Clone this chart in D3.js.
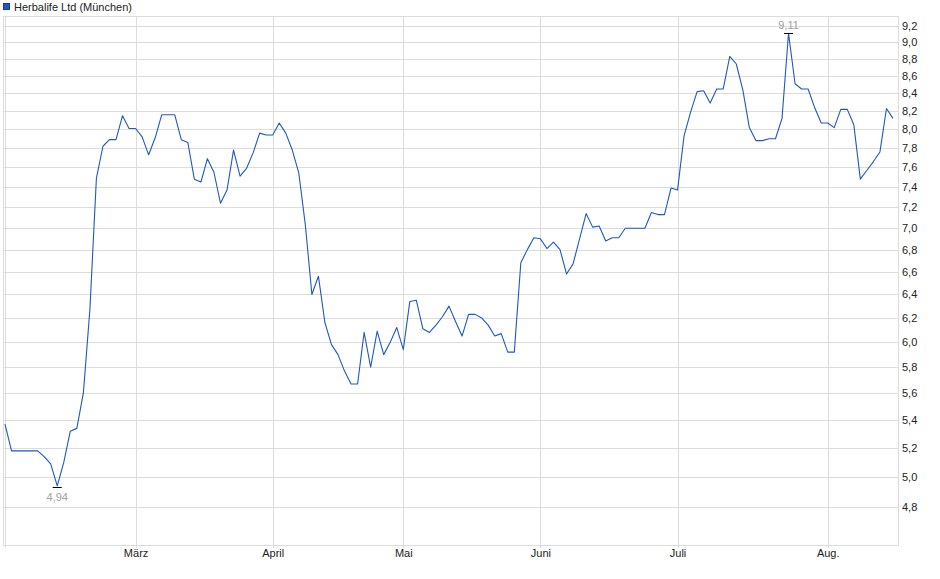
<!DOCTYPE html>
<html>
<head>
<meta charset="utf-8">
<script src="https://cdn.jsdelivr.net/npm/d3@7"></script>
<style>
  body { margin: 0; background: #fff; }
  text { font-family: Arial, "Liberation Sans", sans-serif; }
</style>
</head>
<body>
<div id="chart"></div>
<script>
// Herbalife Ltd (München), daily closes, Feb - Aug.
var seriesName = 'Herbalife Ltd (München)';
var prices = [
  5.37, 5.18, 5.18, 5.18, 5.18, 5.18, 5.14, 5.09, 4.94, 5.10,
  5.32, 5.34, 5.60, 6.27, 7.49, 7.82, 7.89, 7.89, 8.15, 8.01,
  8.01, 7.92, 7.73, 7.91, 8.16, 8.16, 8.16, 7.89, 7.86, 7.48,
  7.45, 7.69, 7.55, 7.24, 7.37, 7.78, 7.51, 7.59, 7.75, 7.96,
  7.94, 7.94, 8.07, 7.96, 7.78, 7.54, 7.03, 6.40, 6.56, 6.16,
  5.98, 5.90, 5.77, 5.67, 5.67, 6.08, 5.80, 6.09, 5.90, 6.00,
  6.12, 5.94, 6.34, 6.35, 6.11, 6.08, 6.14, 6.21, 6.30, 6.17,
  6.05, 6.23, 6.23, 6.20, 6.14, 6.05, 6.07, 5.92, 5.92, 6.68,
  6.80, 6.91, 6.90, 6.81, 6.87, 6.80, 6.58, 6.67, 6.90, 7.14,
  7.01, 7.02, 6.88, 6.91, 6.91, 7.00, 7.00, 7.00, 7.00, 7.15,
  7.13, 7.13, 7.39, 7.37, 7.93, 8.19, 8.42, 8.43, 8.29, 8.45,
  8.45, 8.83, 8.74, 8.44, 8.02, 7.88, 7.88, 7.90, 7.90, 8.12,
  9.11, 8.51, 8.45, 8.45, 8.24, 8.07, 8.07, 8.02, 8.22, 8.22,
  8.05, 7.48, 7.57, 7.66, 7.76, 8.23, 8.12
];
// trading-day index of each month start
var monthIdx = [0, 20, 41, 61, 82, 103, 126];
var monthLabels = ['', 'März', 'April', 'Mai', 'Juni', 'Juli', 'Aug.'];
var yTicks = [4.8, 5.0, 5.2, 5.4, 5.6, 5.8, 6.0, 6.2, 6.4, 6.6, 6.8, 7.0,
              7.2, 7.4, 7.6, 7.8, 8.0, 8.2, 8.4, 8.6, 8.8, 9.0, 9.2];
var yDomain = [4.561, 9.326];

var width = 940, height = 579;
var plot = { left: 3, right: 898, top: 16, bottom: 545 };
var gridColor = '#dcdcdc';
var lineColor = '#1f58c2';

var svg = d3.select('#chart').append('svg')
    .attr('width', width)
    .attr('height', height);

var x = d3.scaleLinear().domain([0, prices.length - 1]).range([5, 893]);
var y = d3.scaleLog().domain(yDomain).range([plot.bottom, plot.top]);

// horizontal grid
svg.append('g').selectAll('line')
    .data(yTicks)
    .enter().append('line')
        .attr('x1', plot.left).attr('x2', plot.right)
        .attr('y1', function(d){ return Math.round(y(d)) + 0.5 })
        .attr('y2', function(d){ return Math.round(y(d)) + 0.5 })
        .attr('stroke', gridColor);

// vertical month grid (with small tick below the frame)
svg.append('g').selectAll('line')
    .data(monthIdx)
    .enter().append('line')
        .attr('x1', function(d){ return Math.round(x(d)) + 0.5 })
        .attr('x2', function(d){ return Math.round(x(d)) + 0.5 })
        .attr('y1', plot.top).attr('y2', plot.bottom + 3)
        .attr('stroke', gridColor);

// frame
svg.append('rect')
    .attr('x', plot.left + 0.5).attr('y', plot.top + 0.5)
    .attr('width', plot.right - plot.left).attr('height', plot.bottom - plot.top)
    .attr('fill', 'none').attr('stroke', gridColor);

// y axis on the right
var yAxis = d3.axisRight(y)
    .tickValues(yTicks)
    .tickSize(0)
    .tickPadding(4)
    .tickFormat(function(d){ return d.toFixed(1).replace('.', ',') });

var yAxisG = svg.append('g')
    .attr('transform', 'translate(' + plot.right + ',0)')
    .call(yAxis);
yAxisG.select('.domain').remove();
yAxisG.selectAll('text').attr('fill', '#222').style('font-size', '11px')
    .style('font-family', 'Arial, "Liberation Sans", sans-serif');

// x axis month labels
var xAxis = d3.axisBottom(x)
    .tickValues(monthIdx)
    .tickSize(0)
    .tickPadding(4)
    .tickFormat(function(d, i){ return monthLabels[i] });

var xAxisG = svg.append('g')
    .attr('transform', 'translate(0,' + plot.bottom + ')')
    .call(xAxis);
xAxisG.select('.domain').remove();
xAxisG.selectAll('text').attr('fill', '#222').style('font-size', '11px')
    .style('font-family', 'Arial, "Liberation Sans", sans-serif');

// price line
var line = d3.line()
    .x(function(d, i){ return x(i) })
    .y(function(d){ return y(d) });

svg.append('path')
    .datum(prices)
    .attr('d', line)
    .attr('fill', 'none')
    .attr('stroke', lineColor)
    .attr('stroke-width', 1.1)
    .attr('stroke-linejoin', 'round');

// min / max markers
var minI = d3.minIndex(prices), maxI = d3.maxIndex(prices);
var fmt = function(v){ return v.toFixed(2).replace('.', ',') };

[[minI, 1, 15], [maxI, 0, -4]].forEach(function(m){
    var cx = x(m[0]), cy = y(prices[m[0]]);
    svg.append('line')
        .attr('x1', cx - 4.5).attr('x2', cx + 4.5)
        .attr('y1', Math.round(cy + m[1]) + 0.5).attr('y2', Math.round(cy + m[1]) + 0.5)
        .attr('stroke', '#000');
    svg.append('text')
        .attr('x', cx).attr('y', cy + m[2])
        .attr('text-anchor', 'middle')
        .attr('fill', '#a0a0a0')
        .style('font-size', '11px')
        .text(fmt(prices[m[0]]));
});

// legend
svg.append('rect')
    .attr('x', 3.5).attr('y', 3.5).attr('width', 6).attr('height', 6)
    .attr('fill', lineColor).attr('stroke', '#173f8f');
svg.append('text')
    .attr('x', 14).attr('y', 10.5)
    .attr('fill', '#222')
    .style('font-size', '11px')
    .text(seriesName);
</script>
</body>
</html>
